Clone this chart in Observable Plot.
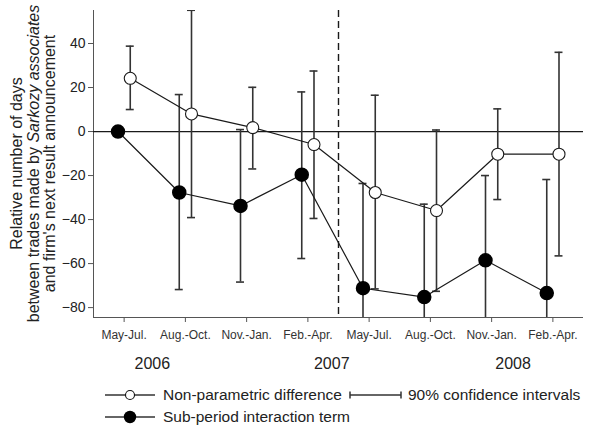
<!DOCTYPE html>
<html>
<head>
<meta charset="utf-8">
<script src="https://cdn.jsdelivr.net/npm/d3@7"></script>
<script src="https://cdn.jsdelivr.net/npm/@observablehq/plot@0.6"></script>
<style>
  html, body { margin: 0; padding: 0; background: #fff; }
  #wrap { position: relative; width: 592px; height: 428px; font-family: "Liberation Sans", Arial, sans-serif; }
  #wrap svg { display: block; }
</style>
</head>
<body>
<div id="wrap"></div>
<script>
// ---- data ----
const periods = ["May-Jul.", "Aug.-Oct.", "Nov.-Jan.", "Feb.-Apr.", "May-Jul.", "Aug.-Oct.", "Nov.-Jan.", "Feb.-Apr."];
const npDiff = [24.2, 8.0, 1.8, -5.9, -27.7, -35.9, -10.3, -10.3];
const npHi   = [38.8, 55.1, 20.1, 27.5, 16.5, 0.7, 10.3, 36.0];
const npLo   = [10.0, -39.1, -17.0, -39.5, -71.5, -72.6, -30.9, -56.5];
const spTerm = [0, -27.7, -33.8, -19.6, -71.2, -75.2, -58.5, -73.4];
const spHi   = [null, 16.8, 0.9, 18.0, -23.6, -33.0, -20.0, -21.8];
const spLo   = [null, -71.8, -68.4, -57.7, -100, -100, -100, -100];
const years = ["2006", "2007", "2008"];
const yearPos = [0.46, 3.39, 6.35];
const yTicks = [-80, -60, -40, -20, 0, 20, 40];
const breakAt = [3.5];
const xDomain = [-0.5, 7.5];
const yDomain = [-84.5, 55];
const yTitle = [
  [{t: "Relative number of days"}],
  [{t: "between trades made by "}, {t: "Sarkozy associates", i: true}],
  [{t: "and firm's next result announcement"}]
];
const legendItems = ["Non-parametric difference", "Sub-period interaction term", "90% confidence intervals"];

// ---- tables ----
const off = 0.1, cap = 0.065;
const np = periods.map((p, i) => ({x: i + off, v: npDiff[i], hi: npHi[i], lo: npLo[i]}));
const sp = periods.map((p, i) => ({x: i - off, v: spTerm[i], hi: spHi[i], lo: spLo[i]}));
const bars = [...np, ...sp].filter(d => d.hi != null);
const caps = bars.flatMap(d => [{x: d.x, y: d.hi}, {x: d.x, y: d.lo}]);

const H = 375;
const ink = "#1a1a1a";
const barInk = "#333";

const chart = Plot.plot({
  width: 592,
  height: H,
  marginLeft: 93,
  marginRight: 9,
  marginTop: 10,
  marginBottom: H - 317,
  style: {fontFamily: "'Liberation Sans', Arial, sans-serif", color: "#222", background: "#fff"},
  x: {type: "linear", domain: xDomain},
  y: {domain: yDomain},
  marks: [
    Plot.ruleX([xDomain[0]], {stroke: "#555", strokeWidth: 1}),
    Plot.ruleY([yDomain[0]], {stroke: "#555", strokeWidth: 1}),
    Plot.axisY({ticks: yTicks, tickSize: 5, tickPadding: 3, fontSize: 14, label: null, stroke: "#555"}),
    Plot.axisX({ticks: d3.range(periods.length), tickFormat: i => periods[i], tickSize: 5, tickPadding: 8, fontSize: 12, label: null, stroke: "#555", fill: "#333"}),
    Plot.axisX({ticks: yearPos, tickFormat: (d, i) => years[i], tickSize: 0, tickPadding: 40, fontSize: 16, label: null}),
    Plot.ruleY([0], {stroke: ink, strokeWidth: 1.3}),
    Plot.ruleX(breakAt, {stroke: ink, strokeWidth: 1.4, strokeDasharray: "7,4"}),
    Plot.ruleX(bars, {x: "x", y1: "lo", y2: "hi", stroke: barInk, strokeWidth: 1.6, clip: true}),
    Plot.ruleY(caps, {y: "y", x1: d => d.x - cap, x2: d => d.x + cap, stroke: barInk, strokeWidth: 1.6, clip: true}),
    Plot.line(np, {x: "x", y: "v", stroke: ink, strokeWidth: 1.2}),
    Plot.line(sp, {x: "x", y: "v", stroke: ink, strokeWidth: 1.2}),
    Plot.dot(np, {x: "x", y: "v", r: 6, fill: "#fff", stroke: ink, strokeWidth: 1.1}),
    Plot.dot(sp, {x: "x", y: "v", r: 6.5, fill: "#000", stroke: "#000"})
  ]
});

const wrap = document.getElementById("wrap");
wrap.appendChild(chart);

// y-axis title (three lines, with italic part)
const svg = d3.select(chart);
const cy = (10 + 317) / 2;
const baseX = [22, 38.5, 55];
yTitle.forEach((line, k) => {
  const t = svg.append("text")
    .attr("transform", `translate(${baseX[k]},${cy}) rotate(-90)`)
    .attr("text-anchor", "middle")
    .attr("font-size", 16)
    .attr("fill", "#222");
  line.forEach(s => t.append("tspan").attr("font-style", s.i ? "italic" : "normal").text(s.t));
});

// legend below the chart
const leg = d3.select(wrap).append("svg").attr("width", 592).attr("height", 428 - H);
const r1 = 395 - H, r2 = 417 - H;
leg.append("line").attr("x1", 105).attr("x2", 155).attr("y1", r1).attr("y2", r1).attr("stroke", "#333").attr("stroke-width", 1.3);
leg.append("circle").attr("cx", 130).attr("cy", r1).attr("r", 4.5).attr("fill", "#fff").attr("stroke", "#111").attr("stroke-width", 1.1);
leg.append("line").attr("x1", 105).attr("x2", 155).attr("y1", r2).attr("y2", r2).attr("stroke", "#333").attr("stroke-width", 1.3);
leg.append("circle").attr("cx", 130).attr("cy", r2).attr("r", 6.2).attr("fill", "#000");
leg.append("line").attr("x1", 350).attr("x2", 401).attr("y1", r1).attr("y2", r1).attr("stroke", "#333").attr("stroke-width", 1.5);
[350, 401].forEach(x => leg.append("line").attr("x1", x).attr("x2", x).attr("y1", r1 - 3.5).attr("y2", r1 + 3.5).attr("stroke", "#333").attr("stroke-width", 1.5));
const lt = (x, y, s) => leg.append("text").attr("x", x).attr("y", y).attr("dy", "0.35em").attr("font-size", 15.5).attr("fill", "#222").text(s);
lt(163, r1, legendItems[0]);
lt(163, r2, legendItems[1]);
lt(408, r1, legendItems[2]);
</script>
</body>
</html>
